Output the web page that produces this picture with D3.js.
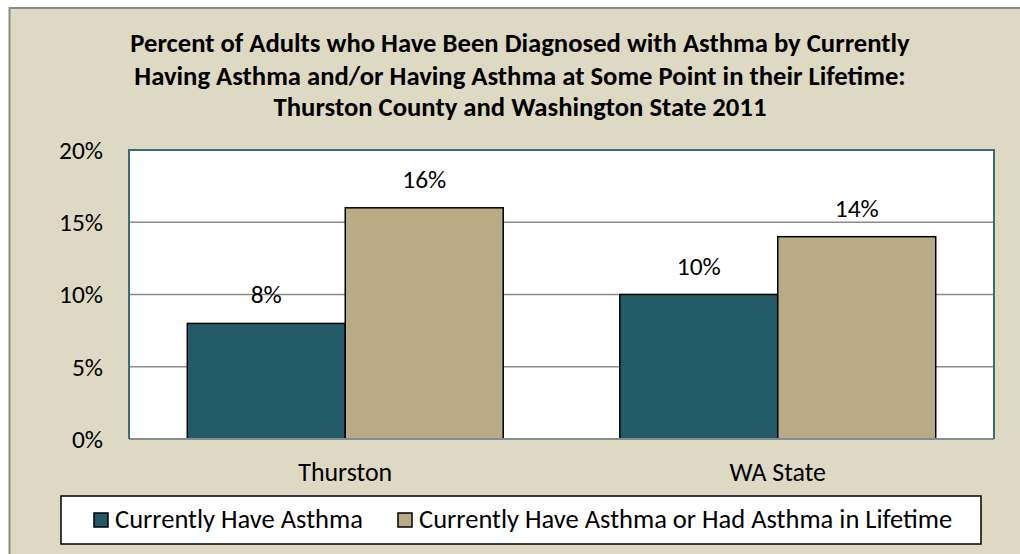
<!DOCTYPE html>
<html>
<head>
<meta charset="utf-8">
<script src="https://cdn.jsdelivr.net/npm/d3@7/dist/d3.min.js"></script>
<style>
  html, body { margin: 0; padding: 0; background: #ffffff; }
  svg { display: block; }
  text { font-family: Carlito, Calibri, Lato, "Open Sans", sans-serif; fill: #000; }
</style>
</head>
<body>
<svg id="chart" width="1020" height="554"></svg>
<script>
// ---- data ----
const categories = ["Thurston", "WA State"];
const seriesNames = ["Currently Have Asthma", "Currently Have Asthma or Had Asthma in Lifetime"];
const currentlyHave = [8, 10];
const lifetime = [16, 14];
const yTicks = [0, 5, 10, 15, 20];
const titleLines = [
  "Percent of Adults who Have Been Diagnosed with Asthma by Currently",
  "Having Asthma and/or Having Asthma at Some Point in their Lifetime:",
  "Thurston County and Washington State 2011"
];
const seriesValues = [currentlyHave, lifetime];
const colors = ["#235A68", "#B9AB85"];

// ---- layout ----
const svg = d3.select("#chart");
const W = 1020, H = 554;
const plot = { left: 129, right: 994, top: 150, bottom: 439 };

function fit(sel, target, start) {
  sel.style("font-size", start + "px");
  const w = sel.node().getComputedTextLength();
  const s = start * target / w;
  sel.style("font-size", s + "px");
  return s;
}

// background
svg.append("rect").attr("x", 0).attr("y", 0).attr("width", W).attr("height", H).attr("fill", "#ffffff");
svg.append("rect").attr("x", 9.5).attr("y", 8).attr("width", W).attr("height", H).attr("fill", "#DDD9C3");
svg.append("path").attr("d", `M9.5,${H} V8 H${W}`)
  .attr("fill", "none").attr("stroke", "#8C8C8C").attr("stroke-width", 2);

// title
const tl = svg.append("g").selectAll("text").data(titleLines).join("text")
  .attr("x", 520).attr("y", (d, i) => [52, 85, 116][i])
  .attr("text-anchor", "middle").style("font-weight", "bold").text(d => d);
const ts = fit(d3.select(tl.nodes()[0]), 780, 20);
tl.style("font-size", ts + "px");

// scales
const x0 = d3.scaleBand().domain(categories).range([plot.left, plot.right]).padding(0);
const x1 = d3.scaleBand().domain(seriesNames).range([0, x0.bandwidth()]).paddingInner(0).paddingOuter(0.369);
const y = d3.scaleLinear().domain([0, 20]).range([plot.bottom, plot.top]);

// plot area
svg.append("rect").attr("x", plot.left).attr("y", plot.top)
  .attr("width", plot.right - plot.left).attr("height", plot.bottom - plot.top)
  .attr("fill", "#ffffff");

// gridlines
svg.append("g").selectAll("line").data(yTicks.filter(t => t > 0 && t < 20)).join("line")
  .attr("x1", plot.left).attr("x2", plot.right)
  .attr("y1", d => y(d)).attr("y2", d => y(d))
  .attr("stroke", "#8C8C8C").attr("stroke-width", 1.5);

// bars
const groups = svg.append("g").selectAll("g").data(categories).join("g")
  .attr("transform", d => `translate(${x0(d)},0)`);
const barData = (c, ci) => seriesNames.map((s, si) => ({ s, si, v: seriesValues[si][ci] }));
groups.selectAll("rect").data((c, ci) => barData(c, ci)).join("rect")
  .attr("x", d => x1(d.s)).attr("width", x1.bandwidth())
  .attr("y", d => y(d.v)).attr("height", d => y(0) - y(d.v))
  .attr("fill", d => colors[d.si]).attr("stroke", "#000").attr("stroke-width", 1.5);

// bottom axis line
svg.append("line").attr("x1", plot.left).attr("x2", plot.right)
  .attr("y1", plot.bottom).attr("y2", plot.bottom)
  .attr("stroke", "#7F8F94").attr("stroke-width", 2);

// plot border (top, left, right)
svg.append("path")
  .attr("d", `M${plot.left},${plot.bottom} V${plot.top} H${plot.right} V${plot.bottom}`)
  .attr("fill", "none").attr("stroke", "#3E6B79").attr("stroke-width", 2);

// data labels
const dl = groups.selectAll("text.dl").data((c, ci) => barData(c, ci)).join("text")
  .attr("class", "dl")
  .attr("x", d => x1(d.s) + x1.bandwidth() / 2).attr("y", d => y(d.v) - 20)
  .attr("text-anchor", "middle").text(d => d.v + "%");
const ds = fit(d3.select(dl.nodes()[1]), 44, 20);
dl.style("font-size", ds + "px");

// y axis labels
const yl = svg.append("g").selectAll("text").data(yTicks).join("text")
  .attr("x", 103).attr("y", d => y(d)).attr("dy", "0.35em")
  .attr("text-anchor", "end").text(d => d + "%");
const ys = fit(d3.select(yl.nodes()[4]), 44, 20);
yl.style("font-size", ys + "px");

// category labels
const cl = svg.append("g").selectAll("text").data(categories).join("text")
  .attr("x", d => x0(d) + x0.bandwidth() / 2).attr("y", 481)
  .attr("text-anchor", "middle").text(d => d);
const cs = fit(d3.select(cl.nodes()[0]), 94, 20);
cl.style("font-size", cs + "px");

// legend
svg.append("rect").attr("x", 61).attr("y", 496).attr("width", 920).attr("height", 48)
  .attr("fill", "#ffffff").attr("stroke", "#000").attr("stroke-width", 1.5);
const legX = [94, 398];
const lg = svg.append("g").selectAll("g").data(seriesNames).join("g")
  .attr("transform", (d, i) => `translate(${legX[i]},0)`);
lg.append("rect").attr("x", 0).attr("y", 513).attr("width", 14).attr("height", 14)
  .attr("fill", (d, i) => colors[i]).attr("stroke", "#000").attr("stroke-width", 1.5);
const lt = lg.append("text").attr("x", 21).attr("y", 528).text(d => d);
const ls = fit(d3.select(lt.nodes()[0]), 248, 20);
lt.style("font-size", ls + "px");
</script>
</body>
</html>
